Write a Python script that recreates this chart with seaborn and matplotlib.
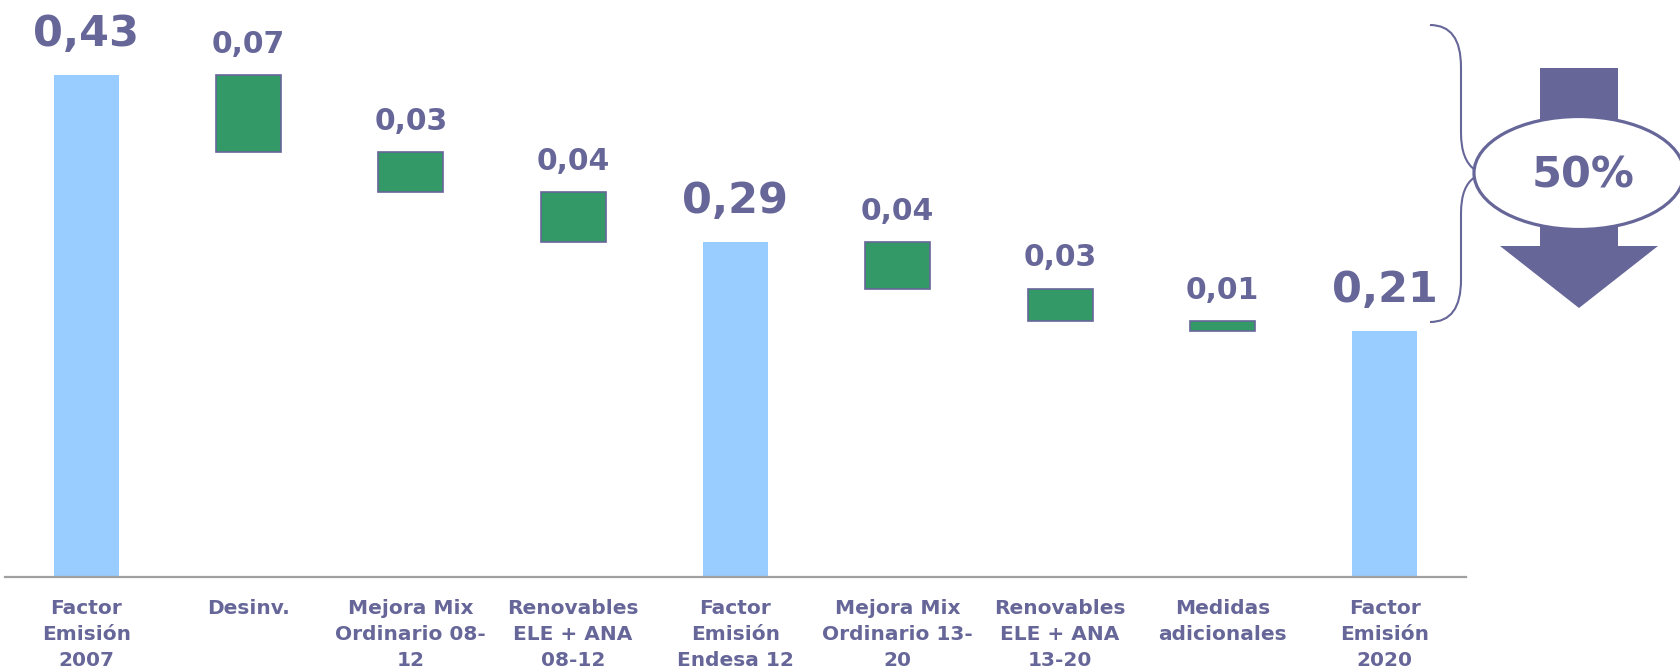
import matplotlib
matplotlib.use("Agg")
import matplotlib.pyplot as plt
import pandas as pd
import seaborn as sns
from matplotlib.patches import Ellipse, Polygon, PathPatch
from matplotlib.path import Path

categories = ['Factor\nEmisión\n2007', 'Desinv.', 'Mejora Mix\nOrdinario 08-\n12',
              'Renovables\nELE + ANA\n08-12', 'Factor\nEmisión\nEndesa 12',
              'Mejora Mix\nOrdinario 13-\n20', 'Renovables\nELE + ANA\n13-20',
              'Medidas\nadicionales', 'Factor\nEmisión\n2020']
kinds = ['total', 'step', 'step', 'step', 'total', 'step', 'step', 'step', 'total']
values = [0.430, 0.066, 0.034, 0.043, 0.287, 0.040, 0.028, 0.008, 0.211]
reduction_label = '50%'

# waterfall bottoms / heights
bottoms, heights = [], []
level = 0
for k, v in zip(kinds, values):
    if k == 'total':
        bottoms.append(0)
        heights.append(v)
        level = v
    else:
        level = level - v
        bottoms.append(level)
        heights.append(v)

df = pd.DataFrame({'cat': categories, 'height': heights, 'bottom': bottoms,
                   'kind': kinds, 'value': values})

sns.set_style('white')
plt.rcParams['font.family'] = ['DejaVu Sans']

TXT = '#666699'
BLUE = '#99CCFF'
GREEN = '#339966'

fig = plt.figure(figsize=(16.81, 6.72), dpi=100)
ax = fig.add_axes([0.003, 0.1414, 0.869, 0.851])

sns.barplot(data=df, x='cat', y='height', order=categories, bottom=df['bottom'].values,
            width=0.4, errorbar=None, ax=ax, color=BLUE)

for p, k in zip(ax.patches, kinds):
    if k == 'total':
        p.set_facecolor(BLUE)
        p.set_edgecolor('none')
    else:
        p.set_facecolor(GREEN)
        p.set_edgecolor(TXT)
        p.set_linewidth(1.2)

# value labels
for i, row in df.iterrows():
    top = row['bottom'] + row['height']
    txt = f"{row['value']:.2f}".replace('.', ',')
    if row['kind'] == 'total':
        ax.annotate(txt, (i, top), xytext=(0, 21), textcoords='offset points',
                    ha='center', va='baseline', fontsize=31, fontweight='bold', color=TXT)
    else:
        ax.annotate(txt, (i, top), xytext=(0, 16), textcoords='offset points',
                    ha='center', va='baseline', fontsize=21.5, fontweight='bold', color=TXT)

ax.set_xlim(-0.5, 8.5)
ax.set_ylim(0, 0.49)
ax.set_xlabel('')
ax.set_ylabel('')
ax.set_yticks([])
for s in ['top', 'right', 'left']:
    ax.spines[s].set_visible(False)
ax.spines['bottom'].set_color('#A0A0A0')
ax.spines['bottom'].set_linewidth(1.6)
ax.tick_params(axis='x', length=0, pad=16)
for lab in ax.get_xticklabels():
    lab.set_fontsize(14.5)
    lab.set_fontweight('bold')
    lab.set_color(TXT)
    lab.set_linespacing(1.45)

# overlay: brace, ellipse and arrow (pixel coordinates)
ov = fig.add_axes([0, 0, 1, 1])
ov.set_xlim(0, 1681)
ov.set_ylim(672, 0)
ov.axis('off')
ov.patch.set_alpha(0)

arrow = Polygon([(1540, 68), (1618, 68), (1618, 246), (1658, 246), (1579, 308),
                 (1500, 246), (1540, 246)], closed=True, facecolor=TXT, edgecolor='none')
ov.add_patch(arrow)

brace_verts = [(1430, 25), (1461, 25), (1461, 67), (1461, 133), (1461, 160), (1475, 170),
               (1475, 177), (1461, 186), (1461, 213), (1461, 280), (1461, 322), (1430, 322)]
brace_codes = [Path.MOVETO, Path.CURVE3, Path.CURVE3, Path.LINETO, Path.CURVE3, Path.CURVE3,
               Path.MOVETO, Path.CURVE3, Path.CURVE3, Path.LINETO, Path.CURVE3, Path.CURVE3]
ov.add_patch(PathPatch(Path(brace_verts, brace_codes), facecolor='none', edgecolor=TXT, lw=1.5))

ell = Ellipse((1579, 173), 210, 113, facecolor='white', edgecolor=TXT, lw=2.3)
ov.add_patch(ell)
ov.text(1583, 175, reduction_label, ha='center', va='center', fontsize=31,
        fontweight='bold', color=TXT)

fig.savefig('out.png', dpi=100, facecolor='white')
